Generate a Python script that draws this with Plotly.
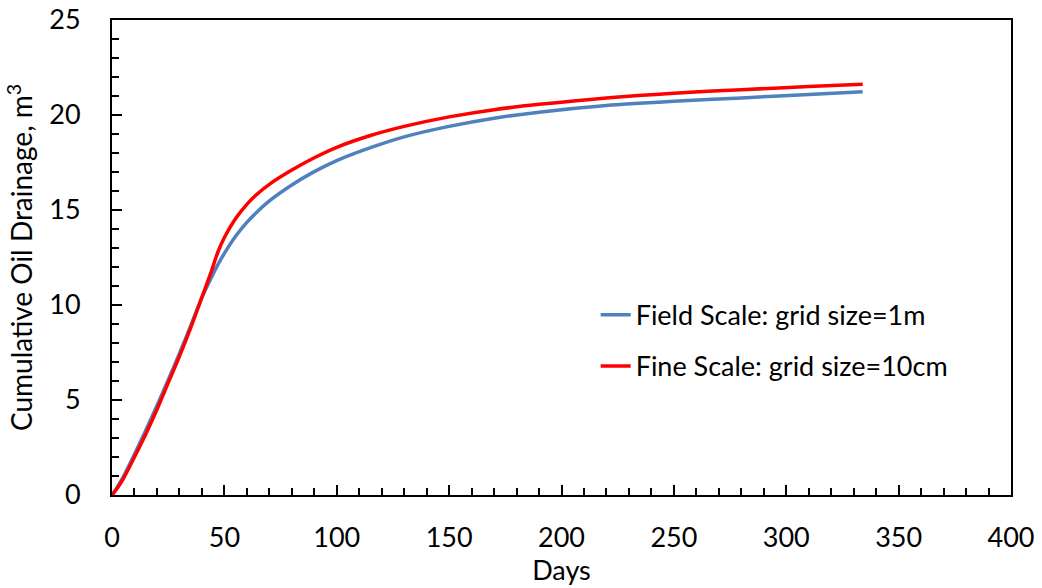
import plotly.graph_objects as go

days = [0, 2, 5, 10, 15, 20, 25, 30, 35, 40, 44, 47, 50, 55, 60, 65, 70, 80, 90,
        100, 115, 130, 150, 170, 190, 220, 250, 280, 310, 334]
field_scale = [0, 0.35, 0.95, 2.15, 3.4, 4.7, 6.05, 7.45, 8.9, 10.4, 11.4, 12.1,
               12.72, 13.62, 14.35, 14.95, 15.48, 16.32, 17.02, 17.6, 18.28, 18.85, 19.4,
               19.83, 20.15, 20.5, 20.72, 20.9, 21.08, 21.22]
fine_scale = [0, 0.3, 0.85, 2.0, 3.2, 4.5, 5.9, 7.3, 8.8, 10.4, 11.7, 12.75, 13.55,
              14.55, 15.3, 15.88, 16.35, 17.1, 17.75, 18.3, 18.92, 19.4, 19.9,
              20.28, 20.56, 20.9, 21.15, 21.33, 21.5, 21.62]

FONT = "Lato"
fig = go.Figure()
fig.add_trace(go.Scatter(x=days, y=field_scale, mode="lines", name="Field Scale: grid size=1m",
                         line=dict(color="#4F81BD", width=3.5, shape="spline", smoothing=0.8),
                         legendgroup="a"))
fig.add_trace(go.Scatter(x=days, y=fine_scale, mode="lines", name="Fine Scale: grid size=10cm",
                         line=dict(color="#FF0000", width=3.5, shape="spline", smoothing=0.8),
                         legendgroup="b"))

axis_common = dict(showline=True, linecolor="black", linewidth=2, mirror=True,
                   ticks="inside", ticklen=10, tickwidth=2, tickcolor="black",
                   showgrid=False, zeroline=False, automargin=False,
                   tickfont=dict(family=FONT, size=27, color="black"))

fig.update_layout(
    width=1042, height=588,
    margin=dict(l=112, r=31, t=20, b=93),
    plot_bgcolor="white", paper_bgcolor="white",
    font=dict(family=FONT, size=27, color="black"),
    xaxis=dict(range=[0, 400], dtick=50, tick0=0,
               minor=dict(dtick=10, ticks="inside", ticklen=7, tickwidth=2, tickcolor="black"),
               ticklabelstandoff=18,
               title=dict(text="Days", font=dict(family=FONT, size=27), standoff=0),
               **axis_common),
    yaxis=dict(range=[0, 25], dtick=5, tick0=0,
               minor=dict(dtick=1, ticks="inside", ticklen=7, tickwidth=2, tickcolor="black"),
               ticklabelstandoff=24,
               title=dict(text="Cumulative Oil Drainage, m<sup>3</sup>",
                          font=dict(family=FONT, size=28), standoff=8),
               **axis_common),
    showlegend=True,
    legend=dict(x=0.538, y=0.43, xanchor="left", yanchor="top",
                bgcolor="rgba(0,0,0,0)", tracegroupgap=13,
                font=dict(family=FONT, size=27, color="black")),
)

fig.write_html("out.html")
